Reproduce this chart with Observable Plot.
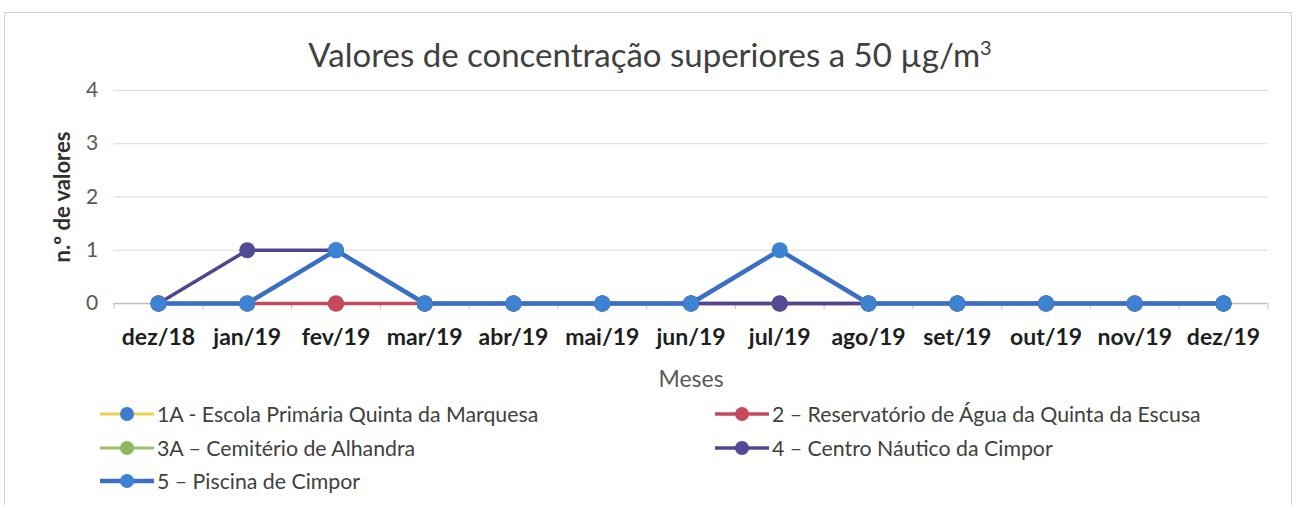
<!DOCTYPE html>
<html><head><meta charset="utf-8">
<script src="https://cdn.jsdelivr.net/npm/d3@7"></script>
<script src="https://cdn.jsdelivr.net/npm/@observablehq/plot@0.6"></script>
<style>
body{margin:0;background:#fff;font-family:Lato,"Open Sans",sans-serif;}
#wrap{position:relative;width:1300px;height:505px;overflow:hidden;background:#fff;}
#frame{position:absolute;left:4px;top:12px;width:1288px;height:500px;border:1.5px solid #cdd6df;box-sizing:border-box;}
#title{position:absolute;left:0;width:1300px;top:34px;text-align:center;font-size:33px;color:#404040;line-height:40px;}
#title sup{font-size:20px;vertical-align:top;position:relative;top:-7px;}
#chart{position:absolute;left:0;top:0;}
.li{position:absolute;display:flex;align-items:center;font-size:21.3px;color:#404040;height:30px;white-space:nowrap;}
.li svg{margin-right:3px;}
</style></head>
<body>
<div id="wrap">
  <div id="frame"></div>
  <div id="chart"></div>
  <div id="title">Valores de concentração superiores a 50 µg/m<sup>3</sup></div>
  <div id="legend"></div>
</div>
<script>
const months = ["dez/18","jan/19","fev/19","mar/19","abr/19","mai/19","jun/19","jul/19","ago/19","set/19","out/19","nov/19","dez/19"];
const yTicks = [0,1,2,3,4];
const s1A = [0,0,0,0,0,0,0,0,0,0,0,0,0];
const s2  = [0,0,0,0,0,0,0,0,0,0,0,0,0];
const s3A = [0,0,0,0,0,0,0,0,0,0,0,0,0];
const s4  = [0,1,1,0,0,0,0,0,0,0,0,0,0];
const s5  = [0,0,1,0,0,0,0,1,0,0,0,0,0];
const seriesNames = ["1A - Escola Primária Quinta da Marquesa","2 – Reservatório de Água da Quinta da Escusa","3A – Cemitério de Alhandra","4 – Centro Náutico da Cimpor","5 – Piscina de Cimpor"];

const series = [
  {name: seriesNames[0], values: s1A, line:"#f0d050", marker:"#3d7cd0", w:3},
  {name: seriesNames[2], values: s3A, line:"#9cc26e", marker:"#8aba5c", w:3},
  {name: seriesNames[1], values: s2,  line:"#c24a5c", marker:"#c8485a", w:3.5},
  {name: seriesNames[3], values: s4,  line:"#4f4690", marker:"#534a96", w:3.5},
  {name: seriesNames[4], values: s5,  line:"#3a6fc6", marker:"#3c83d4", w:4.5}
];

const marks = [
  Plot.gridY([1,2,3,4], {stroke:"#d9d9d9", strokeOpacity:1}),
  Plot.ruleY([0], {stroke:"#bfbfbf", strokeWidth:1.5}),
  Plot.axisX(d3.range(-0.5, 13, 1), {tickSize:6, tickFormat:()=>"", stroke:"#bfbfbf", label:null}),
  Plot.axisX(d3.range(months.length), {tickSize:0, tickPadding:25, tickFormat:i=>months[i], fontSize:23, fontWeight:"bold", fill:"#1e1e1e", label:null}),
  Plot.axisY(yTicks, {tickSize:0, tickPadding:16, tickFormat:d3.format("d"), fontSize:21, fill:"#595959", label:null}),
  Plot.text(["Meses"], {frameAnchor:"bottom", dy:83, fontSize:23, fill:"#595959"}),
  Plot.text(["n.º de valores"], {frameAnchor:"left", textAnchor:"middle", rotate:-90, dx:-51, fontSize:22, fontWeight:"bold", fill:"#303030"})
];
for (const s of series) {
  const idx = d3.range(s.values.length);
  marks.push(Plot.line(idx, {x:i=>i, y:i=>s.values[i], stroke:s.line, strokeWidth:s.w, curve:"linear"}));
  marks.push(Plot.dot(idx, {x:i=>i, y:i=>s.values[i], fill:s.marker, r:8}));
}

const plot = Plot.plot({
  width:1300, height:400,
  marginLeft:113.6, marginRight:32.6, marginTop:90, marginBottom:97,
  x:{domain:[-0.5, 12.5]},
  y:{domain:[0,4]},
  style:{fontFamily:"Lato, 'Open Sans', sans-serif", background:"transparent", overflow:"visible"},
  marks
});
document.getElementById("chart").appendChild(plot);

// legend
const legendOrder = [
  {s: series[0], left:100, top:414},
  {s: series[2], left:715, top:414},
  {s: series[1], left:100, top:448},
  {s: series[3], left:715, top:448},
  {s: series[4], left:100, top:481}
];
const leg = document.getElementById("legend");
for (const it of legendOrder) {
  const d = document.createElement("div");
  d.className = "li";
  d.style.left = it.left + "px";
  d.style.top = (it.top - 15) + "px";
  d.innerHTML = `<svg width="54" height="20"><line x1="0" y1="10" x2="54" y2="10" stroke="${it.s.line}" stroke-width="${it.s.w}"/><circle cx="27" cy="10" r="7" fill="${it.s.marker}"/></svg><span>${it.s.name}</span>`;
  leg.appendChild(d);
}
</script>
</body></html>
